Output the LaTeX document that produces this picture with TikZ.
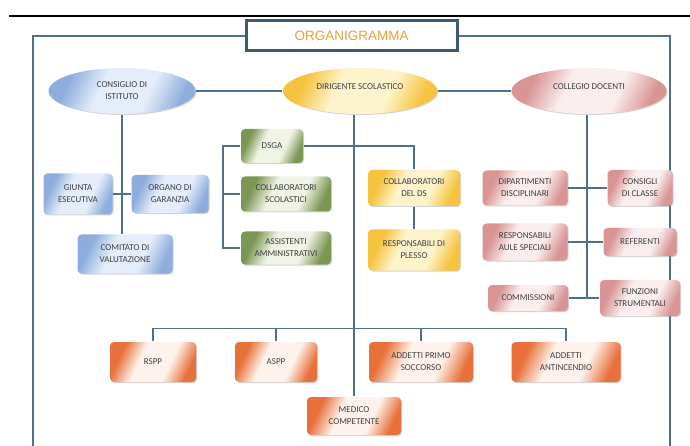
\documentclass[tikz,border=0pt]{standalone}
\usepackage{fontspec}
\setmainfont{Carlito}
\newfontfamily\titlefont{Liberation Sans}
\usetikzlibrary{shapes.geometric,shadows}

\definecolor{linea}{HTML}{4F6F8F}
\definecolor{cornice}{HTML}{3C5A78}
\definecolor{testo}{HTML}{3F3F3F}
\definecolor{arancio}{HTML}{E6A23C}
\definecolor{bluD}{HTML}{8EADDC}
\definecolor{bluL}{HTML}{E4EDF9}
\definecolor{verdeD}{HTML}{7C9653}
\definecolor{verdeL}{HTML}{F0F4E6}
\definecolor{gialloD}{HTML}{F5C33E}
\definecolor{gialloL}{HTML}{FEF4CC}
\definecolor{rosaD}{HTML}{D99494}
\definecolor{rosaL}{HTML}{FBEEEE}
\definecolor{rossoD}{HTML}{E8703A}
\definecolor{rossoL}{HTML}{FEF3EC}

% sfumature: scuro ai lati, chiaro al centro
\pgfdeclarehorizontalshading{sBlu}{100bp}{color(0bp)=(bluD); color(27bp)=(bluD); color(41bp)=(bluL); color(61bp)=(bluL); color(75bp)=(bluD); color(100bp)=(bluD)}
\pgfdeclarehorizontalshading{sVerde}{100bp}{color(0bp)=(verdeD); color(27bp)=(verdeD); color(41bp)=(verdeL); color(61bp)=(verdeL); color(75bp)=(verdeD); color(100bp)=(verdeD)}
\pgfdeclarehorizontalshading{sGiallo}{100bp}{color(0bp)=(gialloD); color(27bp)=(gialloD); color(41bp)=(gialloL); color(61bp)=(gialloL); color(75bp)=(gialloD); color(100bp)=(gialloD)}
\pgfdeclarehorizontalshading{sRosa}{100bp}{color(0bp)=(rosaD); color(27bp)=(rosaD); color(41bp)=(rosaL); color(61bp)=(rosaL); color(75bp)=(rosaD); color(100bp)=(rosaD)}
\pgfdeclarehorizontalshading{sRosso}{100bp}{color(0bp)=(rossoD); color(27bp)=(rossoD); color(41bp)=(rossoL); color(61bp)=(rossoL); color(75bp)=(rossoD); color(100bp)=(rossoD)}

\tikzset{
  ombra/.style={drop shadow={shadow xshift=1pt,shadow yshift=-1pt,opacity=0.35}},
  box/.style={rectangle, rounded corners=4pt, align=center, inner sep=1pt,
    font=\fontsize{9}{12}\selectfont, text=testo, ombra},
  ovale/.style={ellipse, align=center, inner sep=0pt,
    font=\fontsize{9}{12}\selectfont, text=testo, ombra},
  alto/.style={text depth=8pt},
  blu/.style={shading=sBlu, shading angle=-25},
  verde/.style={shading=sVerde, shading angle=-25},
  giallo/.style={shading=sGiallo, shading angle=-25},
  rosa/.style={shading=sRosa, shading angle=-25},
  rosso/.style={shading=sRosso, shading angle=-25},
}

\begin{document}
\begin{tikzpicture}[x=1pt, y=-1pt, line width=1.3pt]
\useasboundingbox (0,0) rectangle (690,446);
% cornice
\draw[black, line width=1.2pt] (9,16) -- (690,16);
\draw[linea] (33,446) -- (33,36) -- (458,36) -- (670,36) -- (670,446);
\draw (351.5,36) node[rectangle, draw=cornice, line width=3pt, fill=white,
    minimum width=211pt, minimum height=30pt, inner sep=0pt,
    font=\titlefont\fontsize{13.5}{15}\selectfont, text=arancio](tit){ORGANIGRAMMA};

% nodi
\draw (122,91) node[ovale, blu, minimum width=147pt, minimum height=46pt](ci){CONSIGLIO DI\\ISTITUTO}
    (360,91) node[ovale, giallo, alto, minimum width=154pt, minimum height=46pt](ds){DIRIGENTE SCOLASTICO}
    (589,91) node[ovale, rosa, alto, minimum width=155pt, minimum height=46pt](cd){COLLEGIO DOCENTI};
\draw (78,194) node[box, blu, minimum width=69pt, minimum height=41pt](gi){GIUNTA\\ESECUTIVA}
    (170,194) node[box, blu, minimum width=77pt, minimum height=38pt](og){ORGANO DI\\GARANZIA}
    (125,254) node[box, blu, minimum width=95pt, minimum height=39pt](cv){COMITATO DI\\VALUTAZIONE};
\draw (272,146) node[box, verde, minimum width=62pt, minimum height=34pt](dsga){DSGA}
    (286,194) node[box, verde, minimum width=90pt, minimum height=35pt](cs){COLLABORATORI\\SCOLASTICI}
    (286,248) node[box, verde, minimum width=90pt, minimum height=33pt](aa){ASSISTENTI\\AMMINISTRATIVI};
\draw (414,188) node[box, giallo, minimum width=92pt, minimum height=36pt](cds){COLLABORATORI\\DEL DS}
    (414,250) node[box, giallo, minimum width=92pt, minimum height=41pt](rp){RESPONSABILI DI\\PLESSO};
\draw (525,188) node[box, rosa, minimum width=85pt, minimum height=35pt](dd){DIPARTIMENTI\\DISCIPLINARI}
    (640,188) node[box, rosa, minimum width=65pt, minimum height=36pt](cc){CONSIGLI\\DI CLASSE}
    (525,242) node[box, rosa, minimum width=85pt, minimum height=37pt](ras){RESPONSABILI\\AULE SPECIALI}
    (640,242) node[box, rosa, minimum width=73pt, minimum height=28pt](ref){REFERENTI}
    (528,298) node[box, rosa, minimum width=80pt, minimum height=26pt](com){COMMISSIONI}
    (640,298) node[box, rosa, minimum width=80pt, minimum height=36pt](fs){FUNZIONI\\STRUMENTALI};
\draw (153,362) node[box, rosso, minimum width=86pt, minimum height=40pt](rspp){RSPP}
    (276,362) node[box, rosso, minimum width=82pt, minimum height=40pt](aspp){ASPP}
    (421,362) node[box, rosso, minimum width=104pt, minimum height=40pt](aps){ADDETTI PRIMO\\SOCCORSO}
    (566,362) node[box, rosso, minimum width=109pt, minimum height=40pt](aan){ADDETTI\\ANTINCENDIO}
    (354,416) node[box, rosso, minimum width=94pt, minimum height=38pt](mc){MEDICO\\COMPETENTE};
\coordinate (k1) at (223,146);
\coordinate (k2) at (587,298);

% collegamenti
\begin{scope}[linea]
    \draw [-] (ci) -- (ds);
    \draw [-] (ds) -- (cd);
    \draw [-] (ci.south) -- (ci.south |- cv.north);
    \draw [-] (gi) -- (og);
    \draw [-] (mc.north) -- (mc.north |- ds.south);
    \draw [-] (dsga.west) -- (k1) |- (aa.west);
    \draw [-] (k1 |- cs.west) -- (cs.west);
    \draw [-] (dsga.east) -| (cds.north);
    \draw [-] (cds) -- (rp);
    \draw [-] (rspp.north) -- ++(0,-13) -| (aan.north);
    \draw [-] (aspp.north) -- ++(0,-13);
    \draw [-] (aps.north) -- ++(0,-13);
    \draw [-] (cd.south -| k2) -- (k2);
    \draw [-] (dd) -- (cc);
    \draw [-] (ras) -- (ref);
    \draw [-] (com) -- (fs);
\end{scope}
\end{tikzpicture}
\end{document}
